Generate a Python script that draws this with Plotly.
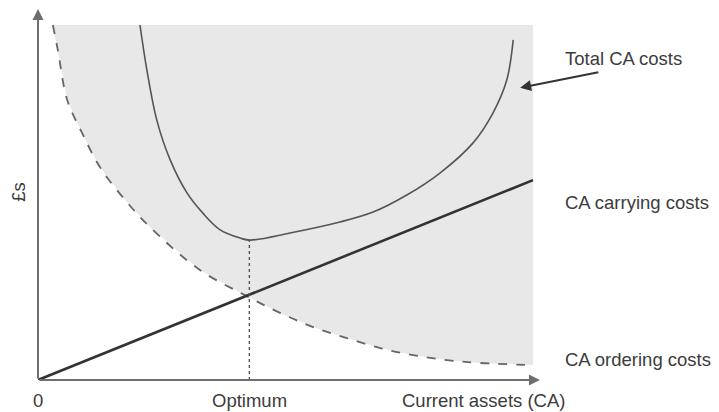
import plotly.graph_objects as go

# ---- data (arbitrary units) ----
total_x = [2.06, 2.20, 2.40, 2.67, 3.01, 3.33, 3.68, 4.08, 4.28, 5.09, 6.10, 6.77, 7.45, 8.12, 8.79, 9.19, 9.47, 9.60]
total_y = [10.00, 8.73, 7.32, 6.20, 5.27, 4.70, 4.23, 4.00, 3.94, 4.14, 4.45, 4.73, 5.21, 5.83, 6.68, 7.52, 8.45, 9.58]

ordering_x = [0.30, 0.40, 0.59, 0.89, 1.25, 1.76, 2.26, 3.27, 4.18, 4.89, 5.56, 6.24, 6.91, 7.58, 8.26, 8.93, 10.00]
ordering_y = [10.00, 9.30, 7.89, 6.96, 6.00, 5.07, 4.31, 3.10, 2.39, 1.89, 1.49, 1.18, 0.90, 0.70, 0.56, 0.48, 0.42]

carrying_x = [0.0, 10.0]
carrying_y = [0.0, 5.63]

optimum_x = 4.27
optimum_cost = 3.94
shade_top = 10.0
shade_right = 10.0

labels = ["Total CA costs", "CA carrying costs", "CA ordering costs"]
x_tick_labels = ["0", "Optimum", "Current assets (CA)"]
y_title = "£s"

FONT = "Liberation Sans, Arial, sans-serif"
TXT = "#3c3c3c"

# page has an 8px body margin: figure is 711x404, placed at (8, 8)
W, H = 711, 404
ML, MB = 30, 32
PW, PH = W - ML, H - MB
XMAX = PW / 49.5
YMAX = PH / 35.5

fig = go.Figure()

# shaded region above the ordering-cost curve
shade_x = ordering_x + [shade_right, ordering_x[0]]
shade_y = ordering_y + [shade_top, shade_top]
fig.add_trace(go.Scatter(x=shade_x, y=shade_y, fill="toself", mode="lines",
                         line=dict(width=0), fillcolor="#e8e8e8", hoverinfo="skip"))

# ordering costs (dashed)
fig.add_trace(go.Scatter(x=ordering_x, y=ordering_y, mode="lines",
                         line=dict(color="#666666", width=1.8, dash="dash", shape="spline", smoothing=1.0)))

# carrying costs
fig.add_trace(go.Scatter(x=carrying_x, y=carrying_y, mode="lines",
                         line=dict(color="#333333", width=2.6)))

# total costs
fig.add_trace(go.Scatter(x=total_x, y=total_y, mode="lines",
                         line=dict(color="#555555", width=1.6, shape="spline", smoothing=1.0)))

# optimum dotted line
fig.add_trace(go.Scatter(x=[optimum_x, optimum_x], y=[0, optimum_cost], mode="lines",
                         line=dict(color="#555555", width=1.4, dash="dot")))

anns = []
# axes with arrowheads
anns.append(dict(x=0, y=YMAX - 0.03, ax=0, ay=0, xref="x", yref="y", axref="x", ayref="y",
                 showarrow=True, arrowhead=2, arrowsize=1.1, arrowwidth=2, arrowcolor="#6e6e6e", text=""))
anns.append(dict(x=10.14, y=0, ax=0, ay=0, xref="x", yref="y", axref="x", ayref="y",
                 showarrow=True, arrowhead=2, arrowsize=1.1, arrowwidth=2, arrowcolor="#6e6e6e", text=""))
# arrow to total curve
anns.append(dict(x=9.74, y=8.23, ax=11.35, ay=8.68, xref="x", yref="y", axref="x", ayref="y",
                 showarrow=True, arrowhead=2, arrowsize=1.1, arrowwidth=2, arrowcolor="#333333", text=""))

f = dict(family=FONT, size=18.5, color=TXT)
anns.append(dict(x=10.61, y=9.07, text=labels[0], showarrow=False, xanchor="left", yanchor="middle", font=f))
anns.append(dict(x=10.61, y=4.99, text=labels[1], showarrow=False, xanchor="left", yanchor="middle", font=f))
anns.append(dict(x=10.61, y=0.59, text=labels[2], showarrow=False, xanchor="left", yanchor="middle", font=f))
ylab = -20 / PH
anns.append(dict(x=0, y=ylab, xref="x", yref="paper", text=x_tick_labels[0], showarrow=False,
                 xanchor="center", yanchor="middle", font=f))
anns.append(dict(x=optimum_x, y=ylab, xref="x", yref="paper", text=x_tick_labels[1], showarrow=False,
                 xanchor="center", yanchor="middle", font=f))
anns.append(dict(x=7.31, y=ylab, xref="x", yref="paper", text=x_tick_labels[2], showarrow=False,
                 xanchor="left", yanchor="middle", font=f))
anns.append(dict(x=-19 / PW, y=5.3, xref="paper", yref="y", text=y_title, showarrow=False, textangle=-90,
                 xanchor="center", yanchor="middle", font=f))

fig.update_layout(
    width=W, height=H,
    margin=dict(l=ML, r=0, t=0, b=MB),
    plot_bgcolor="white", paper_bgcolor="white",
    showlegend=False,
    xaxis=dict(range=[0, XMAX], visible=False, fixedrange=True),
    yaxis=dict(range=[0, YMAX], visible=False, fixedrange=True),
    annotations=anns,
)

fig.write_html("out.html")
